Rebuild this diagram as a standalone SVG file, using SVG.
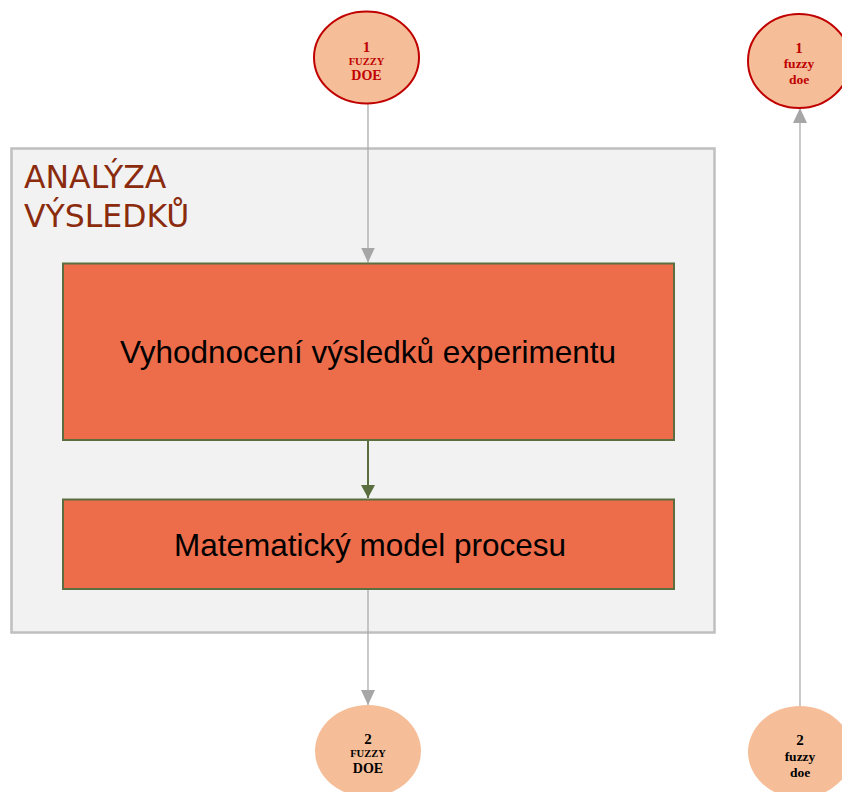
<svg xmlns="http://www.w3.org/2000/svg" width="842" height="792" viewBox="0 0 842 792">
  <style>
    .frame { fill: #f2f2f2; stroke: #bfbfbf; stroke-width: 2.5; }
    .title { font-family: "DejaVu Sans", sans-serif; font-size: 31.5px; fill: #8a2b0d; }
    .step { fill: #ed6d4b; stroke: #5b6e40; stroke-width: 2; }
    .steptext { font-family: "Liberation Sans", Arial, sans-serif; font-size: 31.5px; fill: #000; text-anchor: middle; }
    .conn { fill: #f5bd98; }
    .conn-top { stroke: #c00000; stroke-width: 2; }
    .ct { font-family: "Liberation Serif", "Times New Roman", serif; font-weight: bold; text-anchor: middle; }
    .red { fill: #c00000; }
    .blk { fill: #000; }
    .grey { stroke: #a6a6a6; stroke-width: 1.2; fill: none; }
    .green { stroke: #5b6e40; stroke-width: 2; fill: none; }
  </style>
  <defs>
    <marker id="arrGrey" markerWidth="15" markerHeight="14" refX="15" refY="7" orient="auto" markerUnits="userSpaceOnUse" viewBox="0 0 15 14">
      <path d="M0,0 L15,7 L0,14 Z" fill="#a6a6a6"/>
    </marker>
    <marker id="arrGreen" markerWidth="13" markerHeight="14" refX="13" refY="7" orient="auto" markerUnits="userSpaceOnUse" viewBox="0 0 13 14">
      <path d="M0,0 L13,7 L0,14 Z" fill="#5b6e40"/>
    </marker>
  </defs>

  <rect width="842" height="792" fill="#ffffff"/>

  <!-- Section frame -->
  <g id="section">
    <rect class="frame" x="11.5" y="148.5" width="703" height="484"/>
    <text class="title" x="24" y="188">ANALÝZA</text>
    <text class="title" x="24" y="227">VÝSLEDKŮ</text>
  </g>

  <!-- Connectors -->
  <g id="connectors">
    <line class="grey" x1="368" y1="104" x2="368" y2="262.5" marker-end="url(#arrGrey)"/>
    <line class="green" x1="368" y1="441" x2="368" y2="498" marker-end="url(#arrGreen)"/>
    <line class="grey" x1="368" y1="590" x2="368" y2="705" marker-end="url(#arrGrey)"/>
    <line class="grey" x1="800" y1="706" x2="800" y2="108" marker-end="url(#arrGrey)"/>
  </g>

  <!-- Process steps -->
  <g id="step-evaluation">
    <rect class="step" x="63" y="263.5" width="611" height="176.5"/>
    <text class="steptext" x="368" y="362.5">Vyhodnocení výsledků experimentu</text>
  </g>
  <g id="step-model">
    <rect class="step" x="63" y="499.5" width="611" height="89.5"/>
    <text class="steptext" x="370" y="555.5">Matematický model procesu</text>
  </g>

  <!-- Off-page connectors -->
  <g id="conn-1-upper">
    <ellipse class="conn conn-top" cx="366.5" cy="57.5" rx="52.5" ry="46"/>
    <text class="ct red" x="366.5" y="52" font-size="15">1</text>
    <text class="ct red" x="366.5" y="65" font-size="10.5">FUZZY</text>
    <text class="ct red" x="366.5" y="80" font-size="14">DOE</text>
  </g>
  <g id="conn-1-lower">
    <ellipse class="conn conn-top" cx="799" cy="61" rx="51" ry="47"/>
    <text class="ct red" x="799" y="53" font-size="15">1</text>
    <text class="ct red" x="799" y="68" font-size="13.5">fuzzy</text>
    <text class="ct red" x="799" y="84" font-size="13.5">doe</text>
  </g>
  <g id="conn-2-upper">
    <ellipse class="conn" cx="368" cy="751" rx="53" ry="46"/>
    <text class="ct blk" x="368" y="744" font-size="15">2</text>
    <text class="ct blk" x="368" y="757" font-size="10.5">FUZZY</text>
    <text class="ct blk" x="368" y="773" font-size="14">DOE</text>
  </g>
  <g id="conn-2-lower">
    <ellipse class="conn" cx="800" cy="752" rx="52" ry="46"/>
    <text class="ct blk" x="800" y="745" font-size="15">2</text>
    <text class="ct blk" x="800" y="761" font-size="13.5">fuzzy</text>
    <text class="ct blk" x="800" y="777" font-size="13.5">doe</text>
  </g>
</svg>
